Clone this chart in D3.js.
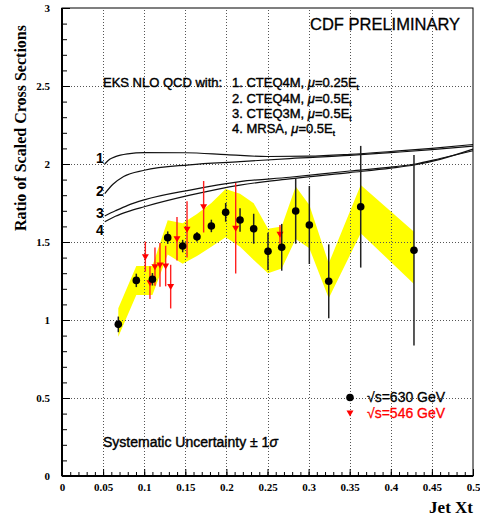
<!DOCTYPE html>
<html><head><meta charset="utf-8">
<script src="https://cdn.jsdelivr.net/npm/d3@7"></script>
<style>body{margin:0;background:#fff}</style>
</head><body>
<svg id="c" width="480" height="521"></svg>
<script>
// ---- data ----
const xt630    = [0.0685,0.0904,0.110,0.1286,0.1468,0.1642,0.1817,0.1991,0.2166,0.2332,0.2506,0.2673,0.2843,0.3009,0.3245,0.3634,0.4282];
const ratio630 = [0.972,1.254,1.261,1.528,1.474,1.534,1.603,1.690,1.641,1.585,1.440,1.466,1.699,1.609,1.248,1.726,1.447];
const err630   = [0.05,0.043,0.04,0.04,0.04,0.03,0.04,0.06,0.075,0.096,0.12,0.15,0.21,0.25,0.237,0.39,0.61];
const sysLo    = [0.893,1.16,1.16,1.42,1.36,1.41,1.47,1.53,1.47,1.385,1.30,1.33,1.52,1.46,1.14,1.556,1.231];
const sysHi    = [1.075,1.346,1.346,1.64,1.62,1.68,1.75,1.84,1.81,1.748,1.585,1.60,1.855,1.737,1.363,1.865,1.566];
const xt546    = [0.1014,0.107,0.1131,0.1192,0.1261,0.1322,0.1399,0.1521,0.1723,0.2113,0.2652];
const ratio546 = [1.406,1.239,1.342,1.353,1.346,1.214,1.521,1.581,1.726,1.588,1.549];
const err546   = [0.096,0.105,0.123,0.14,0.13,0.14,0.14,0.18,0.165,0.29,0.06];
const curve1 = [[0.052,2.00],[0.058,2.03],[0.065,2.047],[0.08,2.065],[0.10,2.073],[0.15,2.072],[0.20,2.06],[0.25,2.048],[0.30,2.05],[0.35,2.062],[0.40,2.08],[0.45,2.10],[0.50,2.125]];
const curve2 = [[0.052,1.81],[0.062,1.87],[0.075,1.92],[0.10,1.96],[0.155,1.995],[0.2165,2.015],[0.277,2.035],[0.35,2.055],[0.40,2.073],[0.45,2.092],[0.50,2.115]];
const curve3 = [[0.052,1.667],[0.065,1.70],[0.08,1.735],[0.10,1.77],[0.1557,1.833],[0.2165,1.887],[0.277,1.915],[0.35,1.955],[0.40,1.98],[0.43,2.0],[0.46,2.035],[0.50,2.085]];
const curve4 = [[0.052,1.63],[0.065,1.665],[0.08,1.695],[0.10,1.726],[0.1557,1.80],[0.2165,1.865],[0.277,1.905],[0.35,1.945],[0.40,1.973],[0.43,1.995],[0.46,2.03],[0.50,2.095]];
const curveNames = ["1","2","3","4"];
const xTicks = [0,0.05,0.1,0.15,0.2,0.25,0.3,0.35,0.4,0.45,0.5];
const yTicks = [0,0.5,1,1.5,2,2.5,3];
const xGrid = [0.05,0.1,0.15,0.2,0.25,0.3,0.35,0.4,0.45];
const yGrid = [0.5,1,1.5,2,2.5];

// ---- chart ----
const svg = d3.select('#c');
const x = d3.scaleLinear().domain([0,0.5]).range([62,473]);
const y = d3.scaleLinear().domain([0,3]).range([476,8]);
const serif = "'Liberation Serif','Times New Roman',serif";
const sans = "'Liberation Sans',Arial,Helvetica,sans-serif";

svg.append('rect').attr('width',480).attr('height',521).attr('fill','#fff');

// systematic band
const band = xt630.map((d,i)=>({x:d,lo:sysLo[i],hi:sysHi[i]}));
svg.append('path').datum(band)
  .attr('d', d3.area().x(d=>x(d.x)).y0(d=>y(d.lo)).y1(d=>y(d.hi)))
  .attr('fill','#ffff00');

// grid
const g = svg.append('g').attr('stroke','#555').attr('stroke-width',1).attr('stroke-dasharray','1,2');
g.selectAll('.gx').data(xGrid).enter().append('line')
  .attr('x1',d=>Math.round(x(d))+0.5).attr('x2',d=>Math.round(x(d))+0.5).attr('y1',y(0)).attr('y2',y(3));
g.selectAll('.gy').data(yGrid).enter().append('line')
  .attr('y1',d=>Math.round(y(d))+0.5).attr('y2',d=>Math.round(y(d))+0.5).attr('x1',x(0)).attr('x2',x(0.5));

// theory curves
const line = d3.line().x(d=>x(d[0])).y(d=>y(d[1])).curve(d3.curveMonotoneX);
[curve1,curve2,curve3,curve4].forEach(c=>{
  svg.append('path').datum(c).attr('d',line).attr('fill','none').attr('stroke','#111').attr('stroke-width',1.2);
});
const labY = [2.038,1.827,1.686,1.577];
svg.selectAll('.cl').data(curveNames).enter().append('text')
  .attr('x',100).attr('y',(d,i)=>y(labY[i])+5)
  .attr('text-anchor','middle').attr('font-family',sans).attr('font-weight','bold').attr('font-size',14)
  .text(d=>d);

// 546 GeV points
const tri = 'M-3.5,-2.5L3.5,-2.5L0,3.5Z';
svg.selectAll('.e546').data(xt546).enter().append('line')
  .attr('x1',d=>x(d)).attr('x2',d=>x(d))
  .attr('y1',(d,i)=>y(ratio546[i]-err546[i])).attr('y2',(d,i)=>y(ratio546[i]+err546[i]))
  .attr('stroke','#ff2020').attr('stroke-width',1.4);
svg.selectAll('.m546').data(xt546).enter().append('path')
  .attr('d',tri).attr('transform',(d,i)=>`translate(${x(d)},${y(ratio546[i])})`).attr('fill','#ff0000');

// 630 GeV points
svg.selectAll('.e630').data(xt630).enter().append('line')
  .attr('x1',d=>x(d)).attr('x2',d=>x(d))
  .attr('y1',(d,i)=>y(ratio630[i]-err630[i])).attr('y2',(d,i)=>y(ratio630[i]+err630[i]))
  .attr('stroke','#222').attr('stroke-width',1.5);
svg.selectAll('.m630').data(xt630).enter().append('circle')
  .attr('cx',d=>x(d)).attr('cy',(d,i)=>y(ratio630[i])).attr('r',3.8).attr('fill','#000');

// axes
const fmt = d3.format('~g');
const xAx = svg.append('g').attr('transform',`translate(0,${y(0)})`)
  .call(d3.axisBottom(x).tickValues(xTicks).tickSize(-7).tickPadding(7).tickFormat(fmt));
const xMin = svg.append('g').attr('transform',`translate(0,${y(0)})`)
  .call(d3.axisBottom(x).tickValues(d3.range(0,51).map(i=>i/100)).tickSize(-4).tickFormat(''));
const yAx = svg.append('g').attr('transform',`translate(${x(0)},0)`)
  .call(d3.axisLeft(y).tickValues(yTicks).tickSize(-8).tickPadding(12).tickFormat(fmt));
const yMin = svg.append('g').attr('transform',`translate(${x(0)},0)`)
  .call(d3.axisLeft(y).tickValues(d3.range(0,31).map(i=>i/10)).tickSize(-5).tickFormat(''));
[xAx,xMin,yAx,yMin].forEach(a=>{a.select('.domain').remove(); a.selectAll('line').attr('stroke','#000');});
[xAx,yAx].forEach(a=>a.selectAll('text').attr('font-family',serif).attr('font-weight','bold').attr('font-size',11).attr('fill','#000'));

// frame
svg.append('rect').attr('x',x(0)).attr('y',y(3)).attr('width',x(0.5)-x(0)).attr('height',y(0)-y(3))
  .attr('fill','none').attr('stroke','#000').attr('stroke-width',1);
svg.append('line').attr('x1',x(0)).attr('x2',x(0.5)).attr('y1',y(0)).attr('y2',y(0)).attr('stroke','#000').attr('stroke-width',2);
svg.append('line').attr('x1',x(0)).attr('x2',x(0)).attr('y1',y(0)).attr('y2',y(3)).attr('stroke','#000').attr('stroke-width',2);

// axis titles
svg.append('text').attr('x',473).attr('y',513).attr('text-anchor','end')
  .attr('font-family',serif).attr('font-weight','bold').attr('font-size',17).text('Jet Xt');
svg.append('text').attr('transform','translate(26,128) rotate(-90)').attr('text-anchor','middle')
  .attr('font-family',serif).attr('font-weight','bold').attr('font-size',16).text('Ratio of Scaled Cross Sections');

// annotations (slight stroke to mimic the heavier original face)
svg.append('text').attr('x',310).attr('y',30).attr('font-family',sans).attr('font-size',16.5)
  .attr('stroke','#000').attr('stroke-width',0.3).text('CDF PRELIMINARY');
const eks = svg.append('g').attr('font-family',sans).attr('font-size',13).attr('fill','#000')
  .attr('stroke','#000').attr('stroke-width',0.4);
eks.append('text').attr('x',103).attr('y',87).text('EKS NLO QCD with:');
const models = [['1. CTEQ4M, ','0.25E'],['2. CTEQ4M, ','0.5E'],['3. CTEQ3M, ','0.5E'],['4. MRSA, ','0.5E']];
const ly = [87,103,118,133];
models.forEach((m,i)=>{
  const t = eks.append('text').attr('x',232).attr('y',ly[i]);
  t.append('tspan').text(m[0]);
  t.append('tspan').attr('font-style','italic').text('\u03bc');
  t.append('tspan').text('='+m[1]);
  t.append('tspan').attr('font-size',8).attr('dy',3).text('t');
});
const sys = svg.append('text').attr('x',103).attr('y',447).attr('font-family',sans).attr('font-size',14)
  .attr('stroke','#000').attr('stroke-width',0.4);
sys.append('tspan').text('Systematic Uncertainty \u00b1 1');
sys.append('tspan').attr('font-style','italic').text('\u03c3');

// legend
svg.append('circle').attr('cx',350).attr('cy',397.5).attr('r',3.8).attr('fill','#000');
svg.append('text').attr('x',367).attr('y',402).attr('font-family',sans).attr('font-size',14)
  .attr('stroke','#000').attr('stroke-width',0.3).text('\u221as=630 GeV');
svg.append('path').attr('d',tri).attr('transform','translate(350,413)').attr('fill','#ff0000');
svg.append('text').attr('x',367).attr('y',418).attr('font-family',sans).attr('font-size',14).attr('fill','#ff0000')
  .attr('stroke','#ff0000').attr('stroke-width',0.3).text('\u221as=546 GeV');
</script>
</body></html>
